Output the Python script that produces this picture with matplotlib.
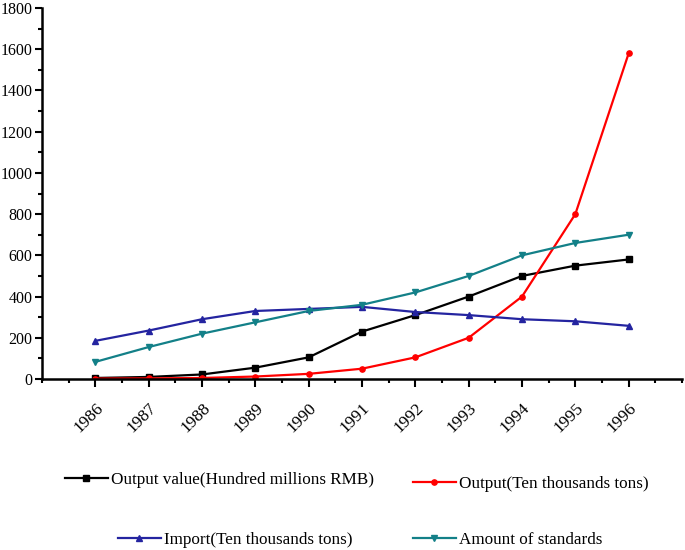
import matplotlib
matplotlib.use("Agg")
import matplotlib.pyplot as plt
from matplotlib.ticker import MultipleLocator

years = [1986, 1987, 1988, 1989, 1990, 1991, 1992, 1993, 1994, 1995, 1996]
output_value = [5, 10, 22, 55, 105, 230, 310, 400, 500, 550, 580]
output = [2, 3, 5, 12, 25, 50, 105, 200, 400, 800, 1580]
imports = [185, 235, 290, 330, 340, 350, 325, 310, 290, 280, 258]
standards = [83, 155, 220, 275, 330, 360, 420, 500, 600, 660, 700]

labels = ["Output value(Hundred millions RMB)", "Output(Ten thousands tons)",
          "Import(Ten thousands tons)", "Amount of standards"]
colors = ["#000000", "#ff0000", "#2424a0", "#138088"]
markers = ["s", "o", "^", "v"]

plt.rcParams['font.family'] = ['Liberation Serif', 'DejaVu Serif']

fig = plt.figure(figsize=(6.85, 5.5), dpi=100)
ax = fig.add_axes([42/685, 1-379/550, (682-42)/685, (379-8)/550])

series = [output_value, output, imports, standards]
handles = []
for vals, c, m, lab in zip(series, colors, markers, labels):
    h, = ax.plot(years, vals, color=c, marker=m, markersize=3.8, linewidth=1.6, label=lab)
    handles.append(h)

ax.set_xlim(1985, 1997)
ax.set_ylim(0, 1800)
ax.yaxis.set_major_locator(MultipleLocator(200))
ax.yaxis.set_minor_locator(MultipleLocator(100))
ax.set_xticks(years)
ax.set_xticklabels([str(y) for y in years], rotation=45, ha='right', rotation_mode='anchor')
ax.set_xticks([1985, 1997] + [y + 0.5 for y in range(1985, 1997)], minor=True)

for s in ['top', 'right']:
    ax.spines[s].set_visible(False)
for s in ['left', 'bottom']:
    ax.spines[s].set_linewidth(1.8)
ax.tick_params(axis='both', which='major', direction='out', length=5, width=1.5)
ax.tick_params(axis='both', which='minor', direction='out', length=3, width=1.5)
ax.tick_params(axis='x', which='major', pad=9, length=6, labelsize=12.5)
ax.tick_params(axis='y', which='major', pad=2, labelsize=11.5)

# legend entries placed individually
positions = [(65/685, 1-480/550), (413/685, 1-484/550),
             (118/685, 1-540/550), (413/685, 1-540/550)]
for h, lab, (x, y) in zip(handles, labels, positions):
    fig.legend([h], [lab], loc='center left', bbox_to_anchor=(x, y), frameon=False,
               fontsize=12.3, handlelength=2.5, handletextpad=0.18, borderpad=0,
               borderaxespad=0)

fig.savefig("out.png", dpi=100)
